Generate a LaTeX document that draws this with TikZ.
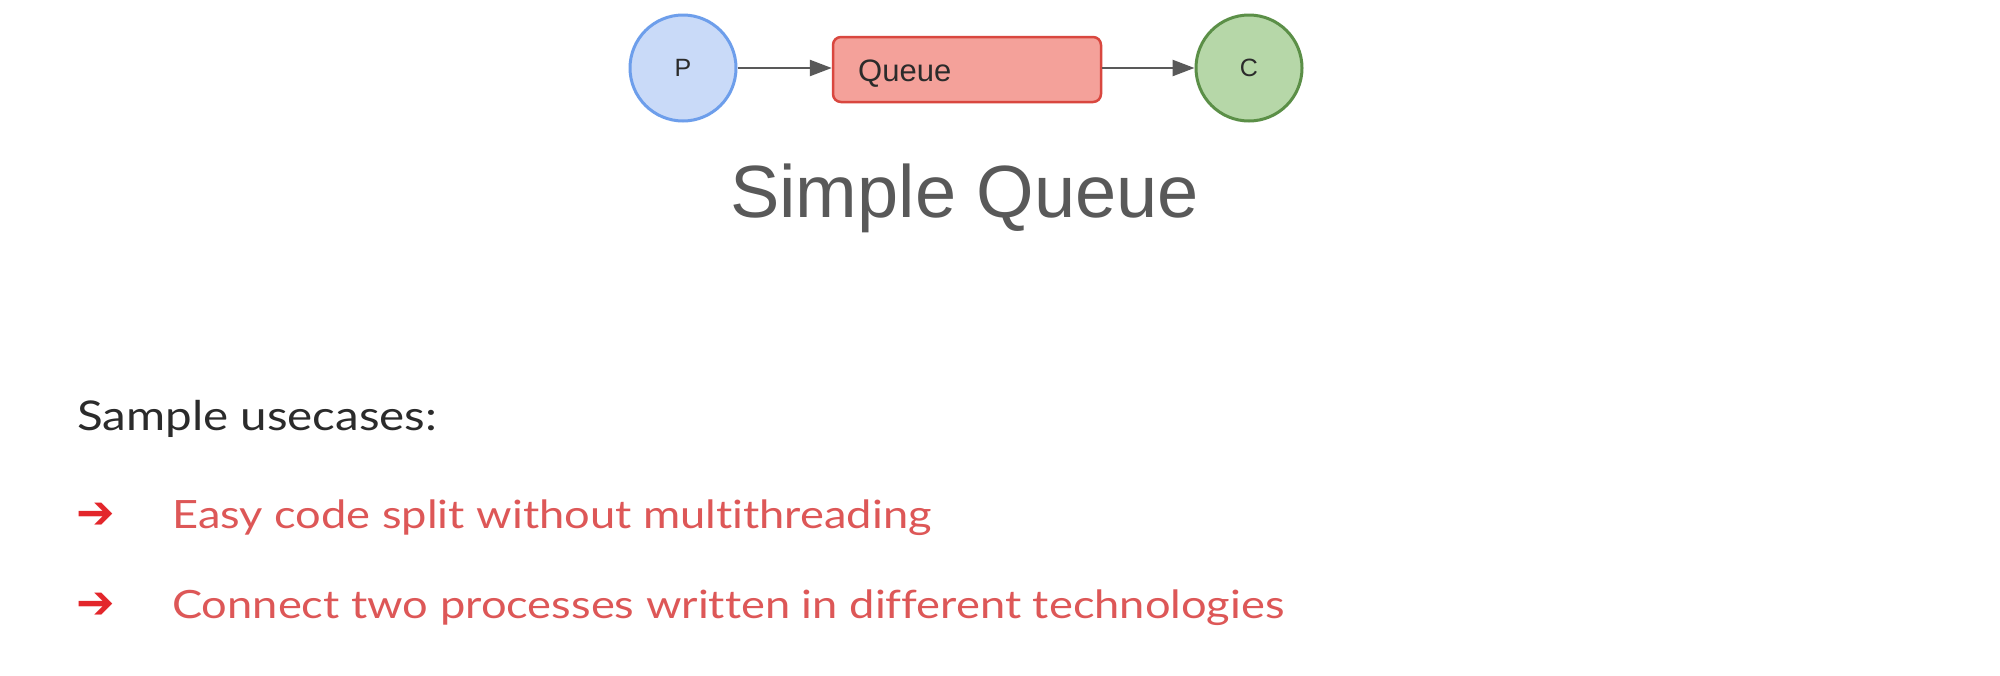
\documentclass[tikz,border=0pt]{standalone}
\usepackage{fontspec}
\setmainfont{Liberation Sans}
\newfontfamily\bodyfont[Ligatures=NoCommon,FakeStretch=1.16]{Lato}
\newfontfamily\symfont{DejaVu Sans}
\usetikzlibrary{arrows.meta}
\definecolor{pfill}{HTML}{C9DAF8}
\definecolor{pline}{HTML}{6D9EEB}
\definecolor{qfill}{HTML}{F4A19A}
\definecolor{qline}{HTML}{D9473F}
\definecolor{cfill}{HTML}{B6D7A8}
\definecolor{cline}{HTML}{5B8F47}
\definecolor{conn}{HTML}{595959}
\definecolor{titlec}{HTML}{595959}
\definecolor{darktxt}{HTML}{2B2B2B}
\definecolor{redtxt}{HTML}{DD5757}
\definecolor{redarrow}{HTML}{E3262B}
\tikzset{
  circnode/.style={circle, minimum size=106pt, inner sep=0pt, line width=3pt, font=\fontsize{25}{30}\selectfont, text=darktxt},
  qbox/.style={rectangle, rounded corners=8pt, line width=2.5pt, draw=qline, fill=qfill},
  conn/.style={draw=conn, line width=2.5pt, -{Triangle[length=22pt,width=16pt]}},
  txt/.style={inner sep=0pt, anchor=base west},
  bullet/.style={txt, font=\symfont\fontsize{46}{54}\selectfont, text=redarrow},
  itemtxt/.style={txt, font=\bodyfont\fontsize{39}{46}\selectfont, text=redtxt},
}
\begin{document}
\begin{tikzpicture}[x=1pt,y=-1pt]
\useasboundingbox[fill=white] (0,0) rectangle (2000,675);
\node[circnode, draw=pline, fill=pfill] (P) at (683,68) {P};
\node[qbox, minimum width=268pt, minimum height=65pt] (Q) at (967,69.5) {};
\node[txt, font=\fontsize{31}{36}\selectfont, text=darktxt] (Qt) at (858,81) {Queue};
\node[circnode, draw=cline, fill=cfill] (C) at (1249,68) {C};
\draw[conn] (P.east) -- (Q.west |- P.east);
\draw[conn] (Q.east |- C.west) -- (C.west);
\node[txt, font=\fontsize{74}{80}\selectfont, text=titlec] (title) at (730,217) {Simple Queue};
\node[txt, font=\bodyfont\fontsize{41}{48}\selectfont, text=darktxt] (sample) at (77,430) {Sample usecases:};
\node[bullet] (b1) at (76,528) {➔};
\node[itemtxt] (t1) at (172,528) {Easy code split without multithreading};
\node[bullet] (b2) at (76,618) {➔};
\node[itemtxt] (t2) at (172,618) {Connect two processes written in different technologies};
\end{tikzpicture}
\end{document}
